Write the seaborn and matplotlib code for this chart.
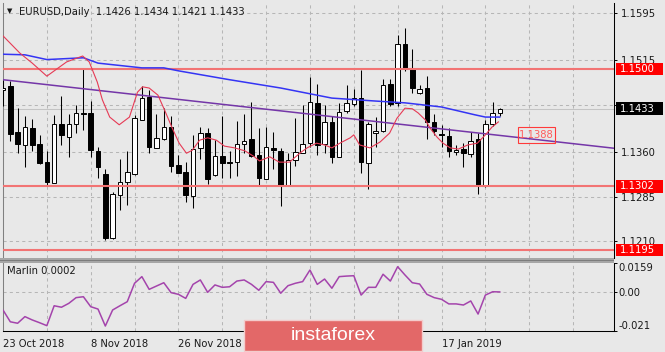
import matplotlib
matplotlib.use("Agg")
import matplotlib.pyplot as plt
import matplotlib.transforms as mtransforms
from matplotlib.patches import Rectangle
import seaborn as sns

# ---------------- data ----------------
symbol_title = "EURUSD,Daily"
header_values = ["1.1426", "1.1434", "1.1421", "1.1433"]

opens = [1.1465, 1.1471, 1.1393, 1.1372, 1.1400, 1.1373, 1.1343, 1.1308, 1.1407, 1.1386,
         1.1408, 1.1426, 1.1426, 1.1362, 1.1323, 1.1215, 1.1288, 1.1309, 1.1323, 1.1414,
         1.1453, 1.1367, 1.1382, 1.1402, 1.1338, 1.1326, 1.1286, 1.1366, 1.1392, 1.1322,
         1.1354, 1.1343, 1.1343, 1.1373, 1.1382, 1.1355, 1.1314, 1.1367, 1.1362, 1.1303,
         1.1347, 1.1359, 1.1375, 1.1443, 1.1374, 1.1410, 1.1352, 1.1430, 1.1441, 1.1451,
         1.1341, 1.1392, 1.1396, 1.1474, 1.1442, 1.1542, 1.1500, 1.1460, 1.1468, 1.1411,
         1.1390, 1.1387, 1.1360, 1.1365, 1.1356, 1.1382, 1.1303, 1.1407, 1.1426]
highs = [1.1482, 1.1479, 1.1434, 1.1420, 1.1416, 1.1388, 1.1361, 1.1423, 1.1455, 1.1424,
         1.1439, 1.1500, 1.1446, 1.1369, 1.1331, 1.1292, 1.1348, 1.1362, 1.1423, 1.1472,
         1.1464, 1.1425, 1.1435, 1.1421, 1.1355, 1.1344, 1.1389, 1.1402, 1.1400, 1.1380,
         1.1420, 1.1361, 1.1413, 1.1424, 1.1445, 1.1400, 1.1402, 1.1393, 1.1366, 1.1358,
         1.1417, 1.1439, 1.1486, 1.1474, 1.1439, 1.1420, 1.1442, 1.1473, 1.1466, 1.1498,
         1.1411, 1.1419, 1.1483, 1.1483, 1.1557, 1.1570, 1.1533, 1.1473, 1.1488, 1.1424,
         1.1406, 1.1400, 1.1372, 1.1375, 1.1394, 1.1392, 1.1414, 1.1445, 1.1434]
lows = [1.1438, 1.1378, 1.1358, 1.1335, 1.1361, 1.1340, 1.1302, 1.1307, 1.1372, 1.1352,
        1.1392, 1.1397, 1.1352, 1.1316, 1.1212, 1.1213, 1.1263, 1.1271, 1.1321, 1.1414,
        1.1358, 1.1366, 1.1380, 1.1327, 1.1324, 1.1276, 1.1265, 1.1349, 1.1306, 1.1319,
        1.1317, 1.1316, 1.1320, 1.1359, 1.1352, 1.1305, 1.1314, 1.1331, 1.1269, 1.1303,
        1.1337, 1.1358, 1.1369, 1.1355, 1.1358, 1.1342, 1.1352, 1.1426, 1.1438, 1.1324,
        1.1297, 1.1369, 1.1394, 1.1438, 1.1438, 1.1497, 1.1459, 1.1458, 1.1382, 1.1389,
        1.1369, 1.1351, 1.1355, 1.1335, 1.1352, 1.1289, 1.1301, 1.1404, 1.1421]
closes = [1.1468, 1.1391, 1.1374, 1.1402, 1.1372, 1.1342, 1.1310, 1.1407, 1.1388, 1.1407,
          1.1426, 1.1425, 1.1364, 1.1334, 1.1215, 1.1289, 1.1309, 1.1326, 1.1417, 1.1452,
          1.1369, 1.1383, 1.1402, 1.1337, 1.1325, 1.1288, 1.1365, 1.1392, 1.1315, 1.1353,
          1.1341, 1.1342, 1.1373, 1.1379, 1.1354, 1.1316, 1.1368, 1.1364, 1.1305, 1.1346,
          1.1360, 1.1374, 1.1445, 1.1372, 1.1410, 1.1352, 1.1428, 1.1443, 1.1452, 1.1343,
          1.1407, 1.1396, 1.1473, 1.1441, 1.1542, 1.1500, 1.1468, 1.1466, 1.1411, 1.1396,
          1.1389, 1.1362, 1.1364, 1.1358, 1.1379, 1.1303, 1.1407, 1.1426, 1.1433]

slow_ma_x = [0, 3, 6, 11, 13, 19, 22, 24, 31, 38, 45, 51, 55, 60, 64.5, 66, 68]
slow_ma = [1.1525, 1.1524, 1.1516, 1.1519, 1.1510, 1.1502, 1.1502, 1.1497, 1.1482,
           1.1468, 1.1451, 1.1446, 1.1443, 1.1436, 1.1423, 1.1419, 1.1419]

fast_ma_x = [0, 2.3, 4, 6, 8.7, 10.9, 11.8, 12.9, 13.6, 14.6, 15.9, 17.3, 18.4, 19.1, 20,
             21.2, 22.1, 23.1, 24.1, 25.1, 25.9, 26.9, 28, 29.2, 30.3, 31.7, 33.1, 34.4,
             35.1, 36.5, 37.8, 39.2, 40.6, 41.6, 42.9, 44, 45, 46.1, 47.5, 48, 48.8, 50.2,
             51.6, 52.9, 53.9, 55, 56, 56.8, 57.8, 58.4, 59.4, 60.2, 61.2, 62.3, 63.6,
             64.9, 66, 66.9, 67.8]
fast_ma = [1.1556, 1.1527, 1.1510, 1.1488, 1.1512, 1.1522, 1.1512, 1.1478, 1.1448, 1.1419,
           1.1406, 1.1419, 1.1461, 1.1470, 1.1468, 1.1456, 1.1431, 1.1402, 1.1375, 1.1358,
           1.1363, 1.1380, 1.1384, 1.1380, 1.1370, 1.1367, 1.1362, 1.1352, 1.1345, 1.1352,
           1.1343, 1.1343, 1.1358, 1.1367, 1.1375, 1.1372, 1.1367, 1.1375, 1.1384, 1.1389,
           1.1372, 1.1367, 1.1377, 1.1392, 1.1417, 1.1434, 1.1433, 1.1426, 1.1414, 1.1401,
           1.1385, 1.1375, 1.1367, 1.1365, 1.1372, 1.1375, 1.1389, 1.1402, 1.1411]

trend_x = [0, 68]
trend_y = [1.1482, 1.1388]
trend_label = "1.1388"
trend_label_x = 72.9

levels = [1.1500, 1.1302, 1.1195]
level_labels = ["1.1500", "1.1302", "1.1195"]

price_ticks = [1.1595, 1.1515, 1.1440, 1.1360, 1.1285, 1.1210]
price_tick_labels = ["1.1595", "1.1515", "", "1.1360", "1.1285", "1.1210"]

marlin_name = "Marlin"
marlin = [-0.0096, -0.0160, -0.0168, -0.0132, -0.0150, -0.0165, -0.0181, -0.0073, -0.0081, -0.0060,
          -0.0029, -0.0024, -0.0078, -0.0091, -0.0183, -0.0096, -0.0073, -0.0051, 0.0049, 0.0085,
          0.0016, 0.0034, 0.0052, -0.0002, -0.0011, -0.0033, 0.0043, 0.0067, 0.0000, 0.0040,
          0.0027, 0.0030, 0.0061, 0.0067, 0.0043, 0.0011, 0.0058, 0.0054, -0.0005, 0.0036,
          0.0049, 0.0058, 0.0121, 0.0043, 0.0072, 0.0022, 0.0085, 0.0088, 0.0090, -0.0015,
          0.0027, 0.0027, 0.0098, 0.0061, 0.0139, 0.0094, 0.0052, 0.0045, -0.0011, -0.0029,
          -0.0038, -0.0063, -0.0063, -0.0069, -0.0047, -0.0118, -0.0015, 0.0003, 0.0002]
marlin_ticks = [0.0159, 0.0, -0.021]
marlin_tick_labels = ["0.0159", "0.00", "-0.021"]

# the ticks at 36 and 48 are hidden under the watermark in the reference
date_ticks = [0, 12, 24, 36, 48, 60]
date_labels = ["23 Oct 2018", "8 Nov 2018", "26 Nov 2018", "", "", "17 Jan 2019"]

watermark = "instaforex"

# ---------------- style ----------------
BG = "#e8e8e8"
GRID = "#b6b6b6"
sns.set_style("white", {"axes.facecolor": BG, "figure.facecolor": BG})
plt.rcParams["font.family"] = ["DejaVu Sans"]
FS = 7.2

W, H = 665, 352
fig = plt.figure(figsize=(W / 100, H / 100), dpi=100)
ax = fig.add_axes([3 / W, 1 - 258 / H, 611 / W, 255 / H])
axm = fig.add_axes([3 / W, 1 - 331 / H, 611 / W, 68 / H])

XMAX = 83.6
n = len(opens)
idx = list(range(n))

# grid
for gx in range(6, 84, 6):
    for a in (ax, axm):
        a.axvline(gx, color=GRID, lw=0.75, ls=(0, (3, 3)), zorder=0.5)
for gy in price_ticks:
    ax.axhline(gy, color=GRID, lw=0.75, ls=(0, (3, 3)), zorder=0.5)
axm.axhline(0, color=GRID, lw=0.75, ls=(0, (3, 3)), zorder=0.5)

# bid line
ax.axhline(closes[-1], color="#c4c4c4", lw=0.75, zorder=1)

# candles
ax.vlines(idx, lows, highs, color="black", lw=0.75, zorder=3)
bottoms = [min(o, c) for o, c in zip(opens, closes)]
heights = [max(abs(c - o), 0.00003) for o, c in zip(opens, closes)]
faces = ["white" if c > o else "black" for o, c in zip(opens, closes)]
ax.bar(idx, heights, bottom=bottoms, width=0.62, color=faces, edgecolor="black",
       linewidth=0.7, zorder=4)

# moving averages
sns.lineplot(x=slow_ma_x, y=slow_ma, ax=ax, color="#3434f4", lw=1.1, zorder=6,
             estimator=None, sort=False)
sns.lineplot(x=fast_ma_x, y=fast_ma, ax=ax, color="#e63a55", lw=0.8, zorder=6,
             estimator=None, sort=False)

# trend line
ax.axline((trend_x[0], trend_y[0]), (trend_x[1], trend_y[1]), color="#7436a8", lw=1.1, zorder=5)
ax.add_patch(Rectangle((trend_label_x - 2.5, trend_y[1] - 0.00135), 5.06, 0.0027,
                       facecolor="none", edgecolor="#ff3a3a", lw=0.8, zorder=7))
ax.text(trend_label_x, trend_y[1], trend_label, color="#ff5c5c", fontsize=FS,
        ha="center", va="center", zorder=8)

# horizontal levels
for lv in levels:
    ax.axhline(lv, color="#f27474", lw=1.5, zorder=5)

ax.set_xlim(0, XMAX)
ax.set_ylim(1.11813, 1.16114)
ax.set_xticks([])
ax.yaxis.tick_right()
ax.set_yticks(price_ticks)
ax.set_yticklabels(price_tick_labels)
ax.tick_params(axis="y", length=2.2, width=0.7, pad=2.4, labelsize=FS, color="black",
               labelcolor="#1a1a1a", direction="out")
ax.set_xlabel("")
ax.set_ylabel("")
for s in ("top", "bottom"):
    ax.spines[s].set_visible(False)
ax.spines["left"].set_color("#808080")
ax.spines["left"].set_linewidth(0.75)
ax.spines["right"].set_color("black")
ax.spines["right"].set_linewidth(0.75)

trans = mtransforms.blended_transform_factory(ax.transAxes, ax.transData)


def price_box(y, text, face):
    ax.add_patch(Rectangle((1.0028, y - 0.00106), 0.077, 0.00212, transform=trans,
                           facecolor=face, edgecolor="none", clip_on=False, zorder=10))
    ax.text(1.0093, y, text, transform=trans, color="white", fontsize=FS,
            ha="left", va="center", zorder=11, clip_on=False)


for lv, lab in zip(levels, level_labels):
    price_box(lv, lab, "#ff0000")
price_box(closes[-1], header_values[-1], "black")

# indicator panel
sns.lineplot(x=idx, y=marlin, ax=axm, color="#a444ac", lw=1.1, zorder=5,
             estimator=None, sort=False)
axm.set_xlim(0, XMAX)
axm.set_ylim(-0.021, 0.0159)
axm.yaxis.tick_right()
axm.set_yticks(marlin_ticks)
axm.set_yticklabels(marlin_tick_labels)
ylabs = axm.get_yticklabels()
ylabs[0].set_va("top")
ylabs[-1].set_va("bottom")
axm.tick_params(axis="y", length=2.2, width=0.7, pad=0.8, labelsize=FS, color="black",
                labelcolor="#1a1a1a", direction="out")
axm.set_xticks(date_ticks)
axm.set_xticklabels(date_labels, ha="left")
axm.tick_params(axis="x", length=3, width=0.7, pad=2.5, labelsize=FS, color="black",
                labelcolor="#1a1a1a", direction="out")
axm.set_xlabel("")
axm.set_ylabel("")
axm.spines["top"].set_visible(False)
axm.spines["left"].set_color("#808080")
axm.spines["left"].set_linewidth(0.75)
for s in ("right", "bottom"):
    axm.spines[s].set_color("black")
    axm.spines[s].set_linewidth(0.75)

# separator between panels
fig.patches.append(Rectangle((0, 1 - 262.5 / H), 614 / W, 4.5 / H, transform=fig.transFigure,
                             facecolor="#a6a6a6", edgecolor="none", zorder=20))
fig.patches.append(Rectangle((0, 1 - 261 / H), 614 / W, 1.2 / H, transform=fig.transFigure,
                             facecolor="#7c7c7c", edgecolor="none", zorder=21))

# header texts
fig.text(9.5 / W, 1 - 11.5 / H, "▼", fontsize=5, ha="center", va="center", color="#1a1a1a")
fig.text(19 / W, 1 - 12 / H, symbol_title + "  " + " ".join(header_values),
         fontsize=FS, ha="left", va="center", color="#1a1a1a")
fig.text(7 / W, 1 - 271.5 / H, f"{marlin_name} {marlin[-1]:.4f}", fontsize=FS,
         ha="left", va="center", color="#1a1a1a")

# watermark
fig.patches.append(Rectangle((244 / W, 1 - 351 / H), 178 / W, 31 / H, transform=fig.transFigure,
                             facecolor="#e36868", edgecolor="#f3cccc", lw=1, zorder=30))
fig.text(333 / W, 1 - 335.5 / H, watermark, fontsize=14, family=["Liberation Sans"],
         color="white", ha="center", va="center", zorder=31)

fig.savefig("out.png", dpi=100, facecolor=BG)
